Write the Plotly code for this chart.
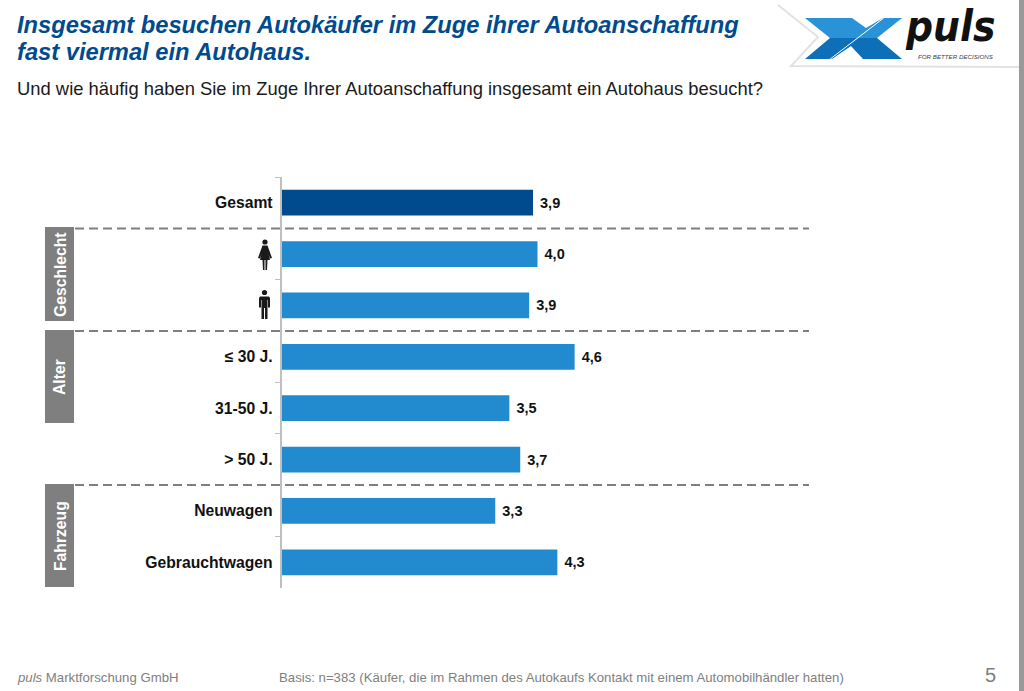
import plotly.graph_objects as go

W = 1024
H = 691

# values (bar lengths, the printed labels are rounded)
categories = ["Gesamt", "Frauen", "Männer", "≤ 30 J.", "31-50 J.", "> 50 J.", "Neuwagen", "Gebrauchtwagen"]
tick_labels = ["Gesamt", "", "", "≤ 30 J.", "31-50 J.", "> 50 J.", "Neuwagen", "Gebrauchtwagen"]
values = [3.93, 4.0, 3.87, 4.58, 3.56, 3.73, 3.34, 4.31]
value_labels = ["3,9", "4,0", "3,9", "4,6", "3,5", "3,7", "3,3", "4,3"]
bar_colors = ["#004b8d"] + ["#228bcf"] * 7
groups = ["Geschlecht", "Alter", "Fahrzeug"]

FONT = "Liberation Sans"


def px(x):
    return x / W


def py(y):
    return 1 - y / H


def rect(x0, y0, x1, y1, color):
    return dict(type="rect", xref="paper", yref="paper", x0=px(x0), x1=px(x1), y0=py(y0), y1=py(y1),
                fillcolor=color, line_width=0, layer="above")


def poly(points, color):
    d = "M" + " L".join(f"{px(a):.5f},{py(b):.5f}" for a, b in points) + " Z"
    return dict(type="path", xref="paper", yref="paper", path=d, fillcolor=color, line_width=0, layer="above")


def stroke(points, color, width):
    d = "M" + " L".join(f"{px(a):.5f},{py(b):.5f}" for a, b in points)
    return dict(type="path", xref="paper", yref="paper", path=d, line=dict(color=color, width=width), layer="above")


def dot(cx, cy, r, color):
    return dict(type="circle", xref="paper", yref="paper", x0=px(cx - r), x1=px(cx + r),
                y0=py(cy + r), y1=py(cy - r), fillcolor=color, line_width=0, layer="above")


def note(x, y, text, size, color="#000000", anchor="left", angle=0, family=FONT):
    return dict(xref="paper", yref="paper", x=px(x), y=py(y), text=text, showarrow=False,
                xanchor=anchor, yanchor="middle", textangle=angle, align="left",
                font=dict(family=family, size=size, color=color))


fig = go.Figure()
fig.add_trace(go.Bar(
    x=values,
    y=categories,
    orientation="h",
    marker=dict(color=bar_colors, line_width=0),
    width=0.5,
    text=value_labels,
    textposition="outside",
    cliponaxis=False,
    textfont=dict(family=FONT, size=14.5, color="#111111"),
    texttemplate="&nbsp;<b>%{text}</b>",
))

shapes = []

# dashed separators
for y in [228.5, 331, 485]:
    shapes.append(dict(type="line", xref="paper", yref="paper", x0=px(75), x1=px(809), y0=py(y), y1=py(y),
                       line=dict(color="#7f7f7f", width=2, dash="9px,5px"), layer="above"))

# group boxes
shapes.append(rect(45, 227, 74, 321, "#7f7f7f"))
shapes.append(rect(45, 330, 74, 423, "#7f7f7f"))
shapes.append(rect(45, 484, 74, 587, "#7f7f7f"))

# woman icon
ICON = "#1a1a1a"
shapes.append(dot(265, 242, 2.6, ICON))
shapes.append(poly([(262.5, 245.5), (267.5, 245.5), (272, 258), (270, 258.5), (268.5, 254), (270, 260),
                    (267.5, 260), (267, 270), (265.5, 270), (265.5, 260), (264.5, 260), (264.5, 270),
                    (263, 270), (262.5, 260), (260, 260), (261.5, 254), (260, 258.5), (258, 258)], ICON))
# man icon
shapes.append(dot(264.5, 292.5, 2.6, ICON))
shapes.append(poly([(260, 296.5), (269, 296.5), (270, 298), (270, 307.5), (268, 307.5), (268, 300), (267.5, 300),
                    (267.5, 319), (265, 319), (265, 308), (264, 308), (264, 319), (261.5, 319),
                    (261.5, 300), (261, 300), (261, 307.5), (259, 307.5), (259, 298)], ICON))

# logo
shapes.append(stroke([(778, 5), (818, 37), (791, 66), (1019, 67)], "#e2e2e2", 2))
shapes.append(poly([(805, 18), (852, 18), (866, 28), (883, 18), (902, 18), (877, 38), (830, 38)], "#2a93d8"))
shapes.append(poly([(830, 38), (877, 38), (902, 59), (863, 59), (851, 46), (832, 59), (805, 59)], "#0d6fb8"))
shapes.append(stroke([(829, 60), (885, 17)], "#ffffff", 1))

# grey strip on the right edge
shapes.append(rect(1019, 0, 1024, H, "#999999"))

annotations = [
    note(15, 25, "<b><i>Insgesamt besuchen Autokäufer im Zuge ihrer Autoanschaffung</i></b>", 23.7, "#004b8d"),
    note(15, 52, "<b><i>fast viermal ein Autohaus.</i></b>", 23.7, "#004b8d"),
    note(15, 89, "Und wie häufig haben Sie im Zuge Ihrer Autoanschaffung insgesamt ein Autohaus besucht?", 18.4, "#1a1a1a"),
    note(60, 275, "<b>" + groups[0] + "</b>", 15.7, "#ffffff", "center", -90),
    note(60, 377, "<b>" + groups[1] + "</b>", 15.7, "#ffffff", "center", -90),
    note(60, 536, "<b>" + groups[2] + "</b>", 15.7, "#ffffff", "center", -90),
    note(15, 677, "<i>puls</i> Marktforschung GmbH", 13.2, "#808080"),
    note(277, 677, "Basis: n=383 (Käufer, die im Rahmen des Autokaufs Kontakt mit einem Automobilhändler hatten)", 13.2, "#808080"),
    note(983, 675, "5", 20, "#808080"),
    note(903, 27, "<b><i>puls</i></b>", 42, "#111111", family="DejaVu Sans Condensed"),
    note(916, 57, "<i>FOR BETTER DECISIONS</i>", 6.2, "#444444"),
]

fig.update_layout(
    width=W,
    height=H,
    margin=dict(l=0, r=0, t=0, b=0),
    paper_bgcolor="#ffffff",
    plot_bgcolor="#ffffff",
    showlegend=False,
    bargap=0.5,
    shapes=shapes,
    annotations=annotations,
    xaxis=dict(domain=[px(281.5), px(809)], range=[0, 527.5 / 64], visible=False),
    yaxis=dict(
        domain=[py(588), py(177)],
        type="category",
        autorange="reversed",
        categoryorder="array",
        categoryarray=categories,
        tickmode="array",
        tickvals=categories,
        ticktext=["<b>" + t + "</b>" if t else "" for t in tick_labels],
        tickson="boundaries",
        ticks="outside",
        ticklen=5,
        tickcolor="#bfbfbf",
        showline=True,
        linecolor="#bfbfbf",
        linewidth=1.5,
        showgrid=False,
        ticklabelstandoff=4,
        tickfont=dict(family=FONT, size=15.7, color="#111111"),
    ),
)

fig.write_html("out.html", config={"displayModeBar": False}, post_script="document.body.style.margin='0';")
